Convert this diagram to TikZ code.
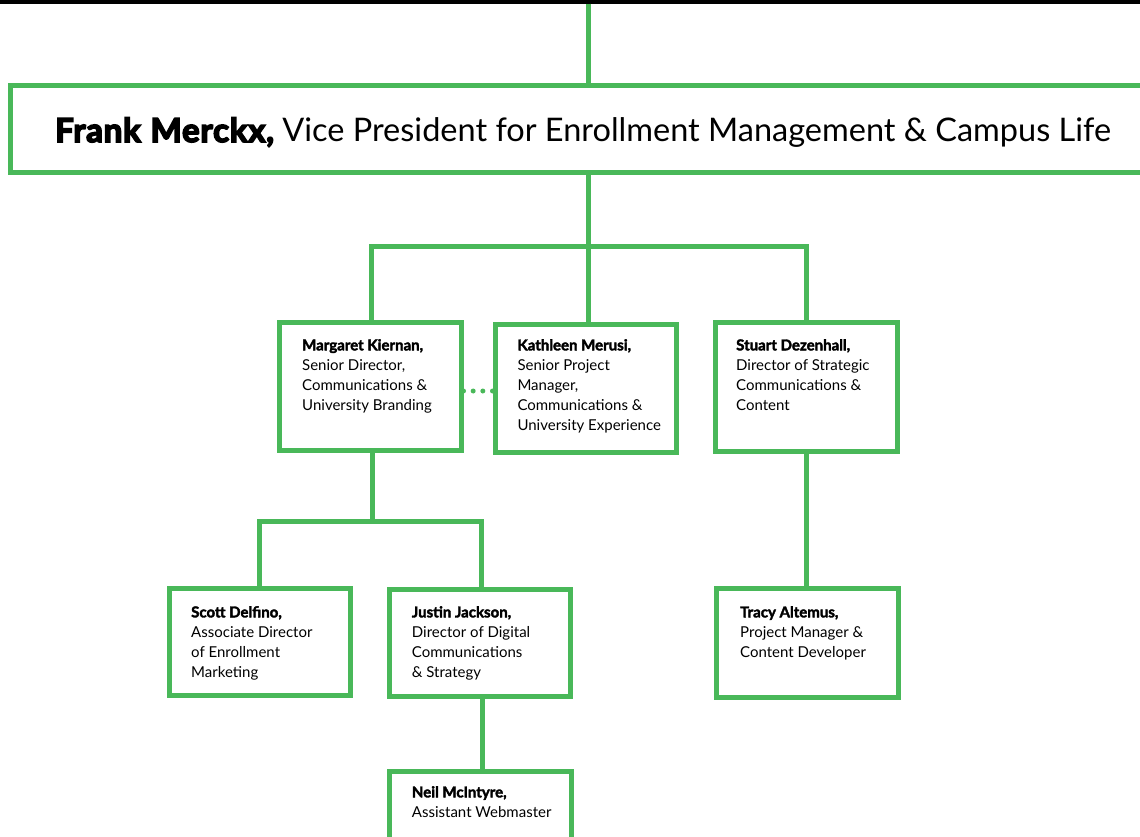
\documentclass[tikz,border=0pt]{standalone}
\usepackage{fontspec}
\setmainfont{Lato}
\definecolor{grn}{RGB}{73,184,89}
\newcommand{\emb}[2]{\special{pdf:literal direct 0 G 2 Tr #1 w}#2\special{pdf:literal direct 0 Tr 0.4 w}}
\newcommand{\nm}[1]{\textbf{\emb{0.35}{#1}}}
\begin{document}
\begin{tikzpicture}[x=1pt,y=-1pt,
  box/.style={draw=grn,line width=5pt,rectangle,inner sep=0pt},
  conn/.style={draw=grn,line width=5pt},
  lbl/.style={anchor=north west,inner sep=0pt,align=left,font=\fontsize{15}{20}\selectfont}]
\useasboundingbox (0,0) rectangle (1140,837);
\fill[black] (0,0) rectangle (1140,3.7);
% boxes
\node[box,minimum width=1134.5pt,minimum height=87pt] (vp) at (577.75,129) {};
\node[box,minimum width=181.5pt,minimum height=128.3pt] (mk) at (370.25,386.65) {};
\node[box,minimum width=181.6pt,minimum height=128.3pt] (km) at (586,388.35) {};
\node[box,minimum width=182.3pt,minimum height=129pt] (sd) at (806.35,387) {};
\node[box,minimum width=181pt,minimum height=107pt] (sc) at (260,642) {};
\node[box,minimum width=181.3pt,minimum height=107.3pt] (jj) at (479.85,643.15) {};
\node[box,minimum width=182.3pt,minimum height=109pt] (ta) at (807.65,643) {};
\node[box,minimum width=182pt,minimum height=88.5pt] (nm) at (480.5,815.75) {};
% connectors
\coordinate (topend) at (588,3.7);
\draw[conn] (topend) -- (topend |- vp.north);
\draw[conn] (588,0 |- vp.south) -- (588,0 |- km.north);
\draw[conn] (371.5,0 |- mk.north) |- (806.5,246.5) -- (806.5,0 |- sd.north);
\draw[conn] (372,0 |- mk.south) -- (372,521.5);
\draw[conn] (259,0 |- sc.north) |- (481.5,521.5) -- (481.5,0 |- jj.north);
\draw[conn] (806.5,0 |- sd.south) -- (806.5,0 |- ta.north);
\draw[conn] (482,0 |- jj.south) -- (482,0 |- nm.north);
\draw[grn,line width=5pt,line cap=round,dash pattern=on 0pt off 9.67pt] (mk.east |- 0,391) -- (km.west |- 0,391);
% labels
\node[anchor=base west,inner sep=0pt,font=\fontsize{32.5}{40}\selectfont] (vpt) at (55,142) {{\fontsize{33}{40}\selectfont\bfseries\addfontfeature{LetterSpace=2.4}\emb{1.6}{Frank\hspace{1pt} Merckx,}} Vice President for Enrollment Management \& Campus Life};
\node[lbl] (mkt) at (302,339) {\nm{Margaret Kiernan,}\\Senior Director,\\Communications \&\\University Branding};
\node[lbl] (kmt) at (517.3,339) {\nm{Kathleen Merusi,}\\Senior Project\\Manager,\\Communications \&\\University Experience};
\node[lbl] (sdt) at (736,339) {\nm{Stuart Dezenhall,}\\Director of Strategic\\Communications \&\\Content};
\node[lbl] (sct) at (191,606) {\nm{Scott Delfino,}\\Associate Director\\of Enrollment\\Marketing};
\node[lbl] (jjt) at (411.7,606) {\nm{Justin Jackson,}\\Director of Digital\\Communications\\\& Strategy};
\node[lbl] (tat) at (740,606) {\nm{Tracy Altemus,}\\Project Manager \&\\Content Developer};
\node[lbl] (nmt) at (411.7,786) {\nm{Neil McIntyre,}\\Assistant Webmaster};
\end{tikzpicture}
\end{document}
